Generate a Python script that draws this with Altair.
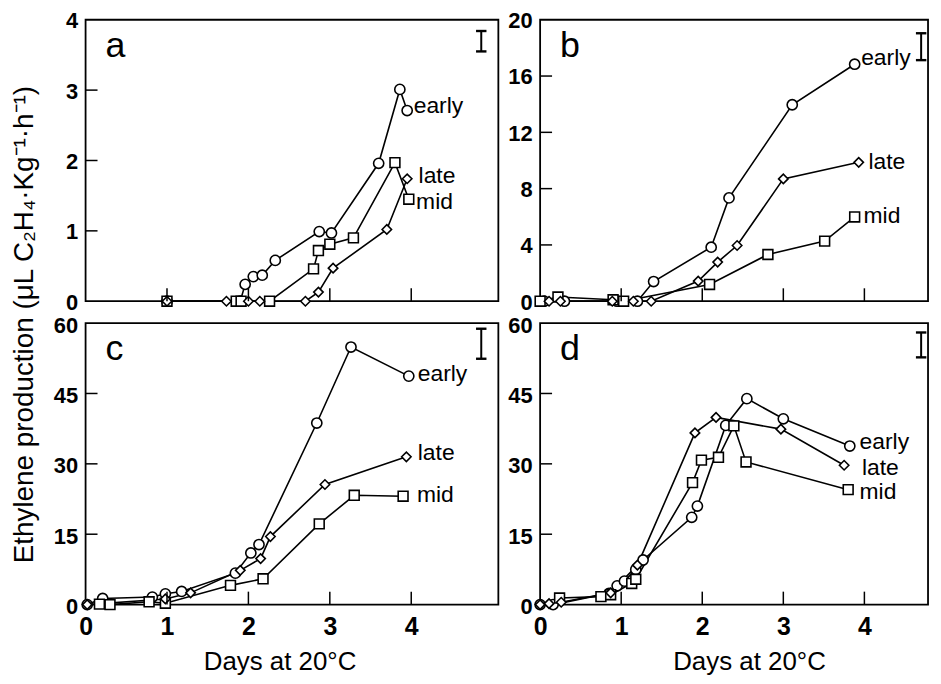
import altair as alt
import pandas as pd

FONT = "Liberation Sans"
SERIES = ["early", "mid", "late"]
SHAPES = ["circle", "square", "diamond"]
SIZES = [105, 90, 190]

# ---------------- Panel a ----------------
a_early_x = [1.0, 1.9, 1.96, 2.06, 2.17, 2.33, 2.87, 3.02, 3.60, 3.86, 3.95]
a_early_y = [0, 0, 0.24, 0.35, 0.37, 0.58, 0.99, 0.97, 1.96, 3.01, 2.71]
a_mid_x = [1.0, 1.85, 1.91, 2.26, 2.80, 2.86, 3.00, 3.29, 3.80, 3.97]
a_mid_y = [0, 0, 0, 0, 0.46, 0.72, 0.81, 0.90, 1.97, 1.45]
a_late_x = [1.0, 1.73, 2.0, 2.14, 2.70, 2.86, 3.04, 3.70, 3.95]
a_late_y = [0, 0, 0, 0, 0, 0.13, 0.47, 1.02, 1.74]

# ---------------- Panel b ----------------
b_early_x = [0.05, 0.30, 0.95, 1.20, 1.40, 2.11, 2.33, 3.11, 3.88]
b_early_y = [0, 0, 0, 0, 1.4, 3.84, 7.34, 13.96, 16.84]
b_mid_x = [0.0, 0.22, 0.90, 1.03, 2.09, 2.81, 3.51, 3.88]
b_mid_y = [0, 0.3, 0.1, 0, 1.19, 3.32, 4.27, 5.99]
b_late_x = [0.11, 0.25, 0.89, 1.15, 1.37, 1.95, 2.19, 2.43, 3.0, 3.93]
b_late_y = [0, 0, 0, 0, 0, 1.43, 2.78, 3.96, 8.69, 9.87]

# ---------------- Panel c ----------------
c_early_x = [0.02, 0.21, 0.82, 0.98, 1.18, 1.84, 2.03, 2.13, 2.84, 3.26, 3.97]
c_early_y = [0, 1.3, 1.6, 2.3, 2.8, 6.7, 11.0, 12.8, 38.7, 54.9, 48.7]
c_mid_x = [0.17, 0.30, 0.78, 0.98, 1.78, 2.18, 2.87, 3.30, 3.90]
c_mid_y = [0.1, 0, 0.6, 0.3, 4.1, 5.5, 17.2, 23.3, 23.1]
c_late_x = [0.02, 0.98, 1.29, 1.90, 2.15, 2.27, 2.94, 3.94]
c_late_y = [0, 1.2, 2.5, 7.3, 9.8, 14.5, 25.6, 31.5]

# ---------------- Panel d ----------------
d_early_x = [0.0, 0.16, 0.85, 0.95, 1.04, 1.18, 1.27, 1.87, 1.94, 2.29, 2.55, 3.0, 3.82]
d_early_y = [0, 0, 2.4, 4.0, 5.0, 7.5, 9.5, 18.6, 21.0, 38.2, 43.9, 39.6, 33.8]
d_mid_x = [0.24, 0.75, 0.87, 1.13, 1.18, 1.88, 1.99, 2.20, 2.39, 2.54, 3.80]
d_mid_y = [1.4, 1.7, 2.1, 4.5, 5.4, 26.0, 30.8, 31.4, 38.1, 30.4, 24.5]
d_late_x = [0.0, 0.11, 0.26, 0.87, 1.20, 1.91, 2.17, 2.97, 3.75]
d_late_y = [0, 0.2, 0.5, 2.5, 8.4, 36.6, 39.9, 37.4, 29.7]

# series label anchors (days, value) in order early, mid, late
a_lab_x = [4.03, 4.06, 4.09]
a_lab_y = [2.77, 1.41, 1.78]
b_lab_x = [3.96, 3.99, 4.05]
b_lab_y = [17.27, 6.06, 9.89]
c_lab_x = [4.08, 4.07, 4.08]
c_lab_y = [49.2, 23.3, 32.2]
d_lab_x = [3.94, 3.94, 3.97]
d_lab_y = [34.6, 24.0, 29.2]

# error bar (LSD) : x position, low, high
a_err = [4.86, 3.55, 3.84]
b_err = [4.70, 17.13, 19.04]
c_err = [4.86, 52.4, 58.8]
d_err = [4.70, 52.7, 58.0]

x_ticks = [0, 1, 2, 3, 4]
x_inner_ticks = [1, 2, 3, 4]
a_yticks = [0, 1, 2, 3, 4]
b_yticks = [0, 4, 8, 12, 16, 20]
cd_yticks = [0, 15, 30, 45, 60]

YTITLE = "Ethylene production (μL C₂H₄·Kg⁻¹·h⁻¹)"
XTITLE = "Days at 20°C"

H = 283


def make_panel(letter, series, labx, laby, err, ydom, yticks, xmax, width,
               show_x, ytitle, xtitle_x, ylab_offset):
    rows = []
    for s, (xs, ys) in zip(SERIES, series):
        for i, (x, y) in enumerate(zip(xs, ys)):
            rows.append({"s": s, "i": i, "d": x, "v": y})
    df = pd.DataFrame(rows)

    xscale = alt.Scale(domain=[0, xmax], nice=False, zero=False)
    yscale = alt.Scale(domain=ydom, nice=False)

    if show_x:
        xaxis = alt.Axis(values=x_ticks, ticks=False, domain=False, grid=False,
                         title=XTITLE, labelPadding=10, labelFlush=False,
                         titleX=xtitle_x, titleY=44, titleBaseline="top", format="d")
    else:
        xaxis = alt.Axis(values=x_ticks, ticks=False, domain=False, grid=False,
                         labels=False, title=None)
    if ytitle:
        yaxis = alt.Axis(values=yticks, ticks=False, domain=False, grid=False,
                         title=YTITLE, labelPadding=8, titleX=-61, titleY=306,
                         titleBaseline="middle", titleAngle=270, titleFontSize=28,
                         labelFontSize=22, labelOffset=ylab_offset, format="d")
    else:
        yaxis = alt.Axis(values=yticks, ticks=False, domain=False, grid=False,
                         title=None, labelPadding=8, labelFontSize=22,
                         labelOffset=ylab_offset, format="d")

    base = alt.Chart(df).encode(
        x=alt.X("d:Q", scale=xscale, axis=xaxis),
        y=alt.Y("v:Q", scale=yscale, axis=yaxis),
    )
    line = base.mark_line(color="black", strokeWidth=1.6).encode(
        detail="s:N", order="i:Q")
    pts = base.mark_point(filled=True, fill="white", stroke="black",
                          strokeWidth=1.6, opacity=1).encode(
        shape=alt.Shape("s:N", scale=alt.Scale(domain=SERIES, range=SHAPES), legend=None),
        size=alt.Size("s:N", scale=alt.Scale(domain=SERIES, range=SIZES), legend=None),
    )

    lab_df = pd.DataFrame({"s": SERIES, "d": labx, "v": laby})
    labels = alt.Chart(lab_df).mark_text(
        align="left", baseline="middle", font=FONT, fontSize=23, color="black"
    ).encode(x="d:Q", y="v:Q", text="s:N")

    inner_y = alt.Chart(pd.DataFrame({"v": [t for t in yticks if t not in (ydom[0], ydom[1])]})).mark_rule(
        color="black", strokeWidth=1.5).encode(y="v:Q", x=alt.value(0), x2=alt.value(12))
    inner_x = alt.Chart(pd.DataFrame({"d": x_inner_ticks})).mark_rule(
        color="black", strokeWidth=1.5).encode(x="d:Q", y=alt.value(H), y2=alt.value(H - 13))

    err_df = pd.DataFrame({"d": [err[0]], "v": [err[1]], "v2": [err[2]]})
    err_rule = alt.Chart(err_df).mark_rule(color="black", strokeWidth=2).encode(
        x="d:Q", y="v:Q", y2="v2:Q")
    cap_df = pd.DataFrame({"d": [err[0], err[0]], "v": [err[1], err[2]]})
    caps = alt.Chart(cap_df).mark_point(shape="M-1,0L1,0", size=110, filled=False,
                                        stroke="black", strokeWidth=2.4, opacity=1).encode(
        x="d:Q", y="v:Q")

    letter_t = alt.Chart(pd.DataFrame({"t": [letter]})).mark_text(
        align="left", baseline="alphabetic", font=FONT, fontSize=36, color="black"
    ).encode(text="t:N", x=alt.value(20), y=alt.value(37))

    return alt.layer(line, pts, labels, inner_y, inner_x, err_rule, caps, letter_t).properties(
        width=width, height=H)


pa = make_panel("a", [(a_early_x, a_early_y), (a_mid_x, a_mid_y), (a_late_x, a_late_y)],
                a_lab_x, a_lab_y, a_err, [0, 4], a_yticks, 5.07, 415, False, True, 0, 1)
pb = make_panel("b", [(b_early_x, b_early_y), (b_mid_x, b_mid_y), (b_late_x, b_late_y)],
                b_lab_x, b_lab_y, b_err, [0, 20], b_yticks, 4.785, 390, False, False, 0, 1)
pc = make_panel("c", [(c_early_x, c_early_y), (c_mid_x, c_mid_y), (c_late_x, c_late_y)],
                c_lab_x, c_lab_y, c_err, [0, 60], cd_yticks, 5.07, 415, True, False, 195, 2)
pd_ = make_panel("d", [(d_early_x, d_early_y), (d_mid_x, d_mid_y), (d_late_x, d_late_y)],
                 d_lab_x, d_lab_y, d_err, [0, 60], cd_yticks, 4.785, 390, True, False, 210, 2)

chart = alt.concat(pa, pb, pc, pd_, columns=2, spacing={"row": 22, "column": 42},
                   bounds="flush").properties(
    padding={"left": 2, "top": -1, "right": 0, "bottom": 0}
).configure_view(
    stroke="black", strokeWidth=1.8
).configure_axis(
    labelFont=FONT, labelFontSize=25, labelFontWeight="bold", labelColor="black",
    titleFont=FONT, titleFontSize=26, titleFontWeight="normal", titleColor="black",
)

chart.save("out.html", embed_options={"renderer": "svg", "actions": False})
